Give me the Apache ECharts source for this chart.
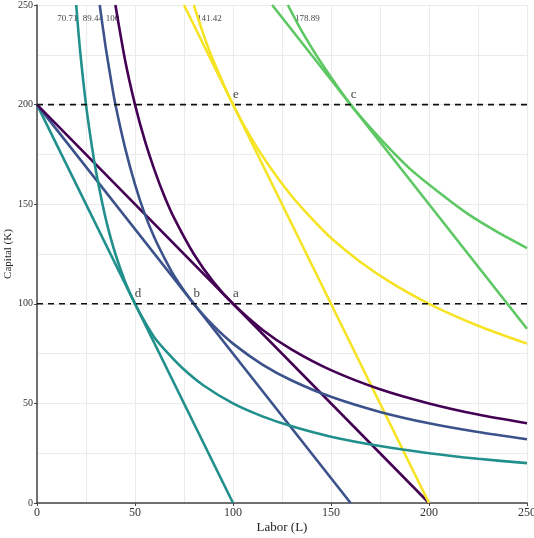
<!DOCTYPE html>
<html>
<head>
<meta charset="utf-8">
<script src="https://cdn.jsdelivr.net/npm/echarts@6/dist/echarts.min.js"></script>
<style>
  html, body { margin: 0; padding: 0; background: #fff; }
  #chart { width: 534px; height: 538px; }
</style>
</head>
<body>
<div id="chart"></div>
<script>
// isoquant curves, [L, K] pairs
const isoTeal = [[20, 250], [22, 227], [25, 200], [28, 179], [30, 167], [33, 152], [36, 139], [40, 125], [45, 111], [50, 100], [55, 91], [60, 83], [67, 75], [75, 67], [85, 59], [100, 50], [115, 43.5], [130, 38.5], [150, 33.3], [175, 28.6], [200, 25], [225, 22.2], [250, 20]];
const isoBlue = [[32, 250], [35, 229], [38, 211], [40, 200], [45, 178], [50, 160], [55, 145], [60, 133], [65, 123], [70, 114], [80, 100], [90, 89], [100, 80], [115, 69.5], [130, 61.5], [150, 53.3], [175, 45.7], [200, 40], [225, 35.6], [250, 32]];
const isoPurple = [[40, 250], [45, 222], [50, 200], [55, 182], [60, 167], [65, 154], [70, 143], [80, 125], [90, 111], [100, 100], [115, 87], [130, 77], [150, 66.7], [175, 57.1], [200, 50], [225, 44.4], [250, 40]];
const isoYellow = [[80, 250], [85, 235], [90, 222], [100, 200], [110, 182], [120, 167], [130, 154], [140, 143], [150, 133], [165, 121], [180, 111], [200, 100], [225, 89], [250, 80]];
const isoGreen = [[128, 250], [135, 237], [145, 221], [160, 200], [175, 183], [190, 168], [205, 156], [220, 145], [235, 136], [250, 128]];

// isocost lines
const costTeal = [[0, 200], [100, 0]];
const costBlue = [[0, 200], [160, 0]];
const costPurple = [[0, 200], [200, 0]];
const costYellow = [[75, 250], [200, 0]];
const costGreen = [[120, 250], [250, 87.5]];

// reference levels
const hLines = [100, 200];

// curve labels at the top
const qLabels = ["70.71", "89.44", "100", "141.42", "178.89"];
const qLabelL = [15.5, 28.5, 38.5, 88, 138];
const qLabelK = 243;

// points
const pointNames = ["a", "b", "c", "d", "e"];
const pointL = [100, 80, 160, 50, 100];
const pointK = [100, 100, 200, 100, 200];

const colors = {
  purple: "#440154",
  blue: "#3B528B",
  teal: "#21908C",
  green: "#5DC863",
  yellow: "#F5E324"
};

const font = "Liberation Serif";

function lineSeries(data, color, smooth) {
  return {
    type: "line",
    data: data,
    smooth: smooth ? 0.25 : false,
    symbol: "none",
    lineStyle: { color: color, width: 2.6 },
    silent: true,
    animation: false
  };
}

const chart = echarts.init(document.getElementById("chart"));

const series = [
  lineSeries(costTeal, colors.teal),
  lineSeries(costBlue, colors.blue),
  lineSeries(costPurple, colors.purple),
  lineSeries(costYellow, colors.yellow),
  lineSeries(costGreen, colors.green),
  lineSeries(isoTeal, colors.teal, true),
  lineSeries(isoBlue, colors.blue, true),
  lineSeries(isoPurple, colors.purple, true),
  lineSeries(isoYellow, colors.yellow, true),
  lineSeries(isoGreen, colors.green, true)
];

hLines.forEach(function (k) {
  series.push({
    type: "line",
    data: [[0, k], [250, k]],
    symbol: "none",
    lineStyle: { color: "#111", width: 1.6, type: [6, 5] },
    silent: true,
    animation: false
  });
});

series.push({
  type: "scatter",
  data: qLabels.map(function (t, i) { return { value: [qLabelL[i], qLabelK], name: t }; }),
  symbolSize: 0,
  label: {
    show: true,
    position: "inside",
    formatter: "{b}",
    fontFamily: font,
    fontSize: 9,
    color: "#111"
  },
  silent: true,
  animation: false
});

series.push({
  type: "scatter",
  data: pointNames.map(function (t, i) { return { value: [pointL[i], pointK[i]], name: t }; }),
  symbolSize: 0,
  label: {
    show: true,
    position: "inside",
    offset: [3, -10],
    formatter: "{b}",
    fontFamily: font,
    fontSize: 13,
    color: "#111"
  },
  silent: true,
  animation: false
});

const gridLine = { show: true, lineStyle: { color: "#ebebeb", width: 1 } };

chart.setOption({
  backgroundColor: "#fff",
  textStyle: { fontFamily: font },
  grid: { left: 37, right: 7, top: 5, bottom: 35, containLabel: false, outerBoundsMode: "none" },
  xAxis: {
    type: "value",
    min: 0,
    max: 250,
    interval: 50,
    name: "Labor (L)",
    nameLocation: "middle",
    nameGap: 18,
    nameMoveOverlap: false,
    nameTextStyle: { fontFamily: font, fontSize: 13, color: "#222" },
    axisLine: { show: true, lineStyle: { color: "#444", width: 1.5 } },
    axisTick: { show: true, length: 3, lineStyle: { color: "#444" } },
    axisLabel: { fontFamily: font, fontSize: 12, color: "#333", margin: 4 },
    splitLine: gridLine,
    minorTick: { show: false, splitNumber: 2 },
    minorSplitLine: gridLine
  },
  yAxis: {
    type: "value",
    min: 0,
    max: 250,
    interval: 50,
    name: "Capital (K)",
    nameLocation: "middle",
    nameGap: 23,
    nameMoveOverlap: false,
    nameTextStyle: { fontFamily: font, fontSize: 11, color: "#222" },
    axisLine: { show: true, lineStyle: { color: "#444", width: 1.5 } },
    axisTick: { show: true, length: 3, lineStyle: { color: "#444" } },
    axisLabel: { fontFamily: font, fontSize: 10, color: "#333", margin: 4 },
    splitLine: gridLine,
    minorTick: { show: false, splitNumber: 2 },
    minorSplitLine: gridLine
  },
  series: series
});
</script>
</body>
</html>
